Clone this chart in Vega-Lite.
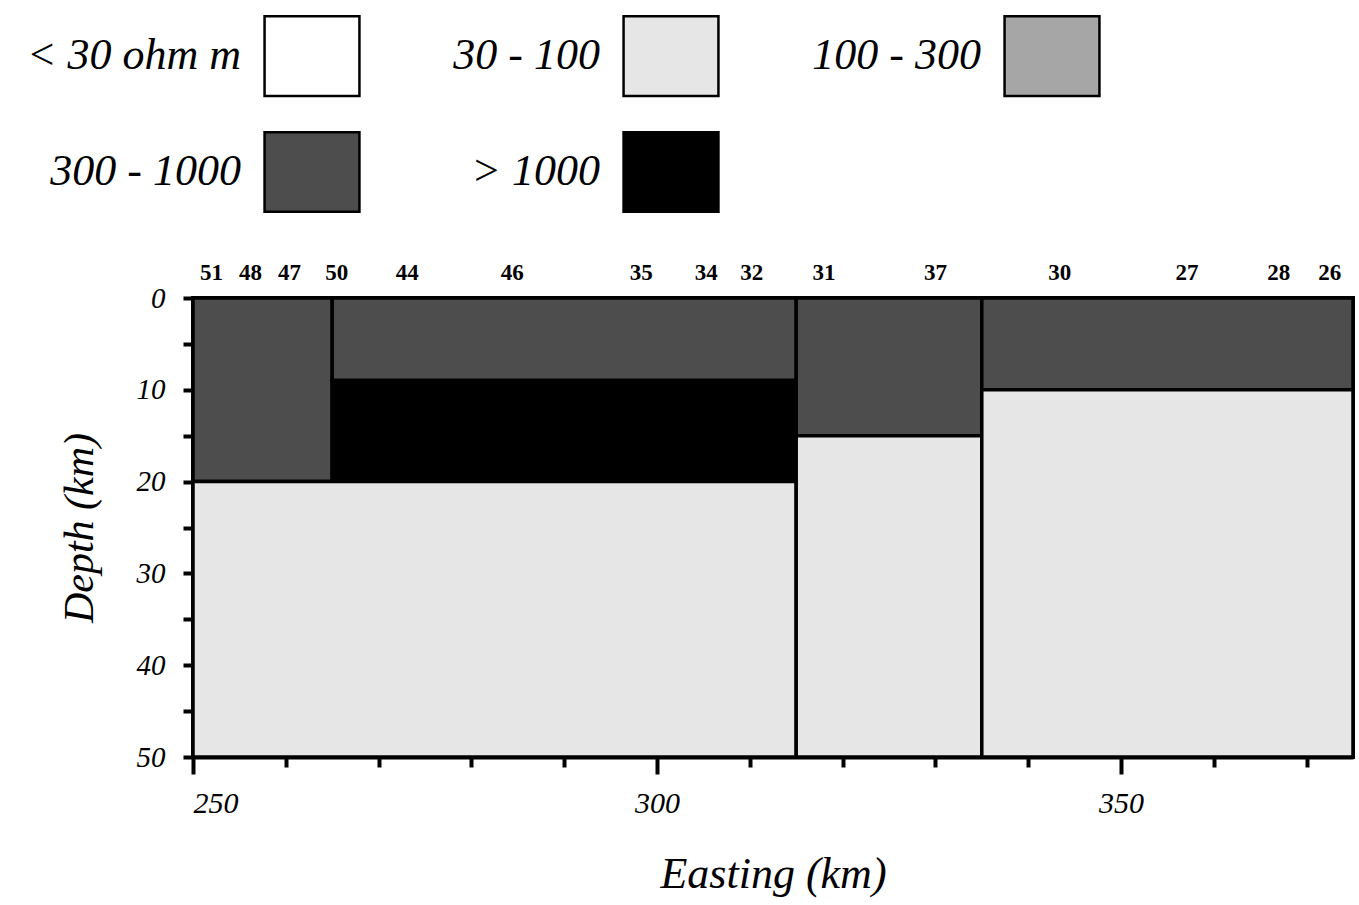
{
  "$schema": "https://vega.github.io/schema/vega-lite/v6.json",
  "autosize": {"type": "none"},
  "padding": {"left": 193, "top": 298, "right": 6, "bottom": 148},
  "width": 1160,
  "height": 459,
  "background": "white",
  "config": {
    "view": {"stroke": "black", "strokeWidth": 4},
    "font": "Liberation Serif"
  },
  "datasets": {
    "blocks": [
      {"x0": 250, "x1": 265, "d0": 0, "d1": 20, "resistivity": "300 - 1000"},
      {"x0": 265, "x1": 315, "d0": 0, "d1": 9, "resistivity": "300 - 1000"},
      {"x0": 265, "x1": 315, "d0": 9, "d1": 20, "resistivity": "> 1000"},
      {"x0": 250, "x1": 315, "d0": 20, "d1": 50, "resistivity": "30 - 100"},
      {"x0": 315, "x1": 335, "d0": 0, "d1": 15, "resistivity": "300 - 1000"},
      {"x0": 315, "x1": 335, "d0": 15, "d1": 50, "resistivity": "30 - 100"},
      {"x0": 335, "x1": 375, "d0": 0, "d1": 10, "resistivity": "300 - 1000"},
      {"x0": 335, "x1": 375, "d0": 10, "d1": 50, "resistivity": "30 - 100"}
    ],
    "stations": [
      {"station": "51", "easting": 252},
      {"station": "48", "easting": 256.2},
      {"station": "47", "easting": 260.4},
      {"station": "50", "easting": 265.5},
      {"station": "44", "easting": 273.1},
      {"station": "46", "easting": 284.4},
      {"station": "35", "easting": 298.3},
      {"station": "34", "easting": 305.3},
      {"station": "32", "easting": 310.2},
      {"station": "31", "easting": 318},
      {"station": "37", "easting": 330},
      {"station": "30", "easting": 343.4},
      {"station": "27", "easting": 357.1},
      {"station": "28", "easting": 367},
      {"station": "26", "easting": 372.5}
    ]
  },
  "layer": [
    {
      "data": {"name": "blocks"},
      "mark": {"type": "rect", "stroke": "black", "strokeWidth": 3.5, "opacity": 1},
      "encoding": {
        "x": {
          "field": "x0", "type": "quantitative",
          "scale": {"domain": [250, 375], "nice": false, "zero": false},
          "axis": {
            "title": "Easting (km)",
            "values": [250, 260, 270, 280, 290, 300, 310, 320, 330, 340, 350, 360, 370],
            "labelExpr": "datum.value % 50 === 0 ? datum.label : ''",
            "labelFont": "Liberation Serif", "labelFontStyle": "italic", "labelFontSize": 30, "labelColor": "black",
            "labelPadding": 14,
            "tickSize": {"condition": {"test": "datum.value % 50 === 0", "value": 17}, "value": 10},
            "tickWidth": 4, "tickColor": "black",
            "domainWidth": 4, "domainColor": "black",
            "grid": false,
            "titleFont": "Liberation Serif", "titleFontStyle": "italic", "titleFontWeight": "normal", "titleFontSize": 44, "titleColor": "black",
            "titlePadding": 34
          }
        },
        "x2": {"field": "x1"},
        "y": {
          "field": "d0", "type": "quantitative",
          "scale": {"domain": [0, 50], "nice": false, "zero": false, "reverse": true},
          "axis": {
            "title": "Depth (km)",
            "values": [0, 5, 10, 15, 20, 25, 30, 35, 40, 45, 50],
            "labelExpr": "datum.value % 10 === 0 ? datum.label : ''",
            "labelFont": "Liberation Serif", "labelFontStyle": "italic", "labelFontSize": 29, "labelColor": "black",
            "labelPadding": 18,
            "tickSize": 10, "tickWidth": 4, "tickColor": "black",
            "domainWidth": 4, "domainColor": "black",
            "grid": false,
            "titleFont": "Liberation Serif", "titleFontStyle": "italic", "titleFontWeight": "normal", "titleFontSize": 42, "titleColor": "black",
            "titlePadding": 35
          }
        },
        "y2": {"field": "d1"},
        "color": {
          "field": "resistivity", "type": "nominal",
          "scale": {
            "domain": ["< 30 ohm m", "30 - 100", "100 - 300", "300 - 1000", "> 1000"],
            "range": ["#ffffff", "#e6e6e6", "#a6a6a6", "#4d4d4d", "#000000"]
          },
          "legend": {
            "title": null,
            "orient": "none",
            "legendX": 70,
            "legendY": -291,
            "columns": 3,
            "direction": "horizontal",
            "symbolType": "M-1,-0.84H1V0.84H-1Z",
            "symbolSize": 9000,
            "symbolStrokeColor": "black",
            "symbolStrokeWidth": 2.5,
            "symbolOpacity": 1,
            "labelFont": "Liberation Serif",
            "labelFontStyle": "italic",
            "labelFontSize": 44,
            "labelColor": "black",
            "labelAlign": "right",
            "labelBaseline": "middle",
            "labelOffset": -120,
            "labelLimit": 400,
            "columnPadding": 88,
            "rowPadding": 22
          }
        }
      }
    },
    {
      "data": {"name": "stations"},
      "mark": {"type": "text", "font": "Liberation Serif", "fontWeight": "bold", "fontSize": 23, "color": "black", "baseline": "alphabetic", "dy": -18},
      "encoding": {
        "x": {"field": "easting", "type": "quantitative"},
        "y": {"value": 0},
        "text": {"field": "station"}
      }
    }
  ]
}
